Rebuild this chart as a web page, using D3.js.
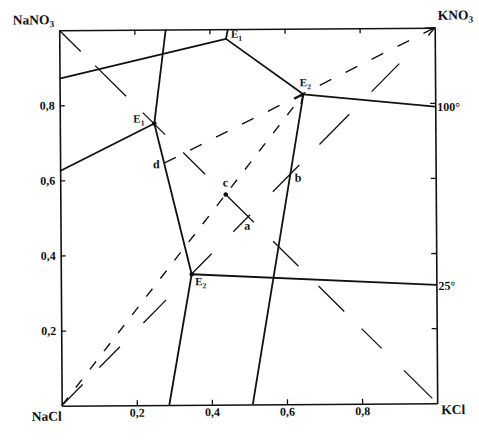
<!DOCTYPE html>
<html><head><meta charset="utf-8">
<script src="https://cdn.jsdelivr.net/npm/d3@7"></script>
<style>
body{margin:0;background:#fff}
text{font-family:"Liberation Serif","Times New Roman",serif;font-weight:bold;fill:#111}
</style>
</head><body><svg id="chart" width="479" height="441"></svg>
<script>
// ---- data (x = mole fraction KCl side, y = NaNO3 side) ----
const tickValues = [0.2, 0.4, 0.6, 0.8];
const tickLabels = ["0,2", "0,4", "0,6", "0,8"];
const cornerLabels = [["NaCl", ""], ["KCl", ""], ["NaNO", "3"], ["KNO", "3"]];
const isoLabels = ["100°", "25°"];
// invariant points
const E1_100 = [0.444, 0.974], E2_100 = [0.649, 0.825];
const E1_25 = [0.2516, 0.750], E2_25 = [0.3485, 0.3477];
// branch end points on the square sides
const ends100 = { left: [0, 0.871], top: [0.449, 1], bottom: [0.509, 0], right: [1, 0.790] };
const ends25 = { left: [0, 0.625], top: [0.2836, 1], bottom: [0.2866, 0], right: [1, 0.315] };
// special points
const pD = [0.2771, 0.644], pC = [0.4405, 0.5595], pA = [0.5, 0.5], pB = [0.614, 0.616];
const pNaCl = [0, 0], pKNO3 = [1, 1];
// short tie segments: x ranges on diagonal NaNO3-KCl (y = 1 - x)
const tiesNaNO3KCl = [[0.0, 0.057], [0.095, 0.177], [0.221, 0.280], [0.328, 0.386], [0.4405, 0.515],
  [0.566, 0.633], [0.686, 0.754], [0.800, 0.853], [0.912, 0.987]];
// short tie segments: x ranges on diagonal NaCl-KNO3 (y = x)
const tiesNaClKNO3 = [[0.004, 0.056], [0.101, 0.156], [0.219, 0.280], [0.349, 0.402], [0.46, 0.505],
  [0.566, 0.637], [0.691, 0.771], [0.831, 0.905]];

// ---- layout ----
const svg = d3.select("#chart");
const x = d3.scaleLinear().domain([0, 1]).range([61.7, 437.2]);
const y = d3.scaleLinear().domain([0, 1]).range([405.7, 30.2]);
const g = svg.append("g").attr("transform", `rotate(-0.38, ${x(0)}, ${y(0)})`);
const P = p => [x(p[0]), y(p[1])];

function styleAxis(sel) {
  sel.select(".domain").attr("stroke", "#111").attr("stroke-width", 1.6);
  sel.selectAll(".tick line").attr("stroke", "#111").attr("stroke-width", 1.3);
  sel.selectAll(".tick text").attr("font-family", '"Liberation Serif",serif')
    .attr("font-weight", "bold").attr("font-size", 12).attr("fill", "#111");
}
g.append("g").attr("transform", `translate(${x(0)},0)`)
  .call(d3.axisLeft(y).tickValues(tickValues).tickFormat((d, i) => tickLabels[i])
    .tickSizeInner(-5).tickSizeOuter(0).tickPadding(5)).call(styleAxis);
g.append("g").attr("transform", `translate(0,${y(0)})`)
  .call(d3.axisBottom(x).tickValues(tickValues).tickFormat((d, i) => tickLabels[i])
    .tickSizeInner(-5).tickSizeOuter(0).tickPadding(3)).call(styleAxis);
g.append("g").attr("transform", `translate(0,${y(1)})`)
  .call(d3.axisTop(x).tickValues(tickValues).tickFormat("")
    .tickSizeInner(-5).tickSizeOuter(0)).call(styleAxis);
g.append("g").attr("transform", `translate(${x(1)},0)`)
  .call(d3.axisRight(y).tickValues(tickValues).tickFormat("")
    .tickSizeInner(-5).tickSizeOuter(0)).call(styleAxis);

const line = d3.line().x(d => x(d[0])).y(d => y(d[1]));

// isotherm branches
function branches(E1, E2, ends) {
  return [[ends.left, E1], [ends.top, E1], [E1, E2], [E2, ends.bottom], [E2, ends.right]];
}
[...branches(E1_100, E2_100, ends100), ...branches(E1_25, E2_25, ends25)].forEach(seg => {
  g.append("path").attr("d", line(seg)).attr("fill", "none")
    .attr("stroke", "#111").attr("stroke-width", 1.8).attr("stroke-linejoin", "round");
});

// tie segments
tiesNaNO3KCl.forEach(r => {
  g.append("path").attr("d", line(r.map(v => [v, 1 - v]))).attr("stroke", "#111").attr("stroke-width", 1.3);
});
tiesNaClKNO3.forEach(r => {
  g.append("path").attr("d", line(r.map(v => [v, v]))).attr("stroke", "#111").attr("stroke-width", 1.3);
});

// dashed crystallisation paths with open arrows
function arrowPath(a, b, dash) {
  g.append("path").attr("d", line([a, b])).attr("stroke", "#111").attr("stroke-width", 1.4)
    .attr("stroke-dasharray", dash).attr("fill", "none");
  const [x1, y1] = P(a), [x2, y2] = P(b);
  const ang = Math.atan2(y2 - y1, x2 - x1), L = 10, h = 0.42;
  const p1 = [x2 - L * Math.cos(ang - h), y2 - L * Math.sin(ang - h)];
  const p2 = [x2 - L * Math.cos(ang + h), y2 - L * Math.sin(ang + h)];
  g.append("path").attr("d", `M${p1}L${x2},${y2}L${p2}`).attr("fill", "none")
    .attr("stroke", "#111").attr("stroke-width", 1.4);
}
arrowPath(pNaCl, E2_100, "10,13");
arrowPath(pD, pKNO3, "13,16");

// dots
[E1_25, E2_25, pC].forEach(p => {
  g.append("circle").attr("cx", x(p[0])).attr("cy", y(p[1])).attr("r", 2.3).attr("fill", "#111");
});

// labels
function label(main, sub, px, py, anchor, size) {
  const t = g.append("text").attr("x", px).attr("y", py).attr("text-anchor", anchor || "start")
    .attr("font-size", size || 12);
  t.append("tspan").text(main);
  if (sub) t.append("tspan").attr("font-size", (size || 12) * 0.7).attr("dy", 3).text(sub);
  return t;
}
label(cornerLabels[0][0], "", x(0), y(0) + 15, "end", 13.5);
label(cornerLabels[1][0], "", x(1) + 4, y(0) + 11, "start", 13.5);
label(cornerLabels[2][0], cornerLabels[2][1], x(0) - 5, y(1) - 6, "end", 13.5);
label(cornerLabels[3][0], cornerLabels[3][1], x(1) + 3, y(1) - 8, "start", 13.5);
label(isoLabels[0], "", x(1) + 2, y(ends100.right[1]) + 4.5, "start", 12);
label(isoLabels[1], "", x(1) + 2, y(ends25.right[1]) + 5, "start", 12);

label("E", "1", x(E1_100[0]) + 5, y(E1_100[1]) - 1, "start", 11);
label("E", "1", x(E1_25[0]) - 21, y(E1_25[1]) - 1, "start", 11);
label("E", "2", x(E2_100[0]) - 3.5, y(E2_100[1]) - 8, "start", 11);
label("E", "2", x(E2_25[0]) + 3.5, y(E2_25[1]) + 11, "start", 11);
label("d", "", x(pD[0]) - 4.5, y(pD[1]) + 5, "end", 12);
label("c", "", x(pC[0]) - 3, y(pC[1]) - 8, "start", 12);
label("a", "", x(pA[0]) - 4, y(pA[1]) + 13, "start", 12);
label("b", "", x(pB[0]) + 4, y(pB[1]) + 9, "start", 12);
</script>
</body></html>
